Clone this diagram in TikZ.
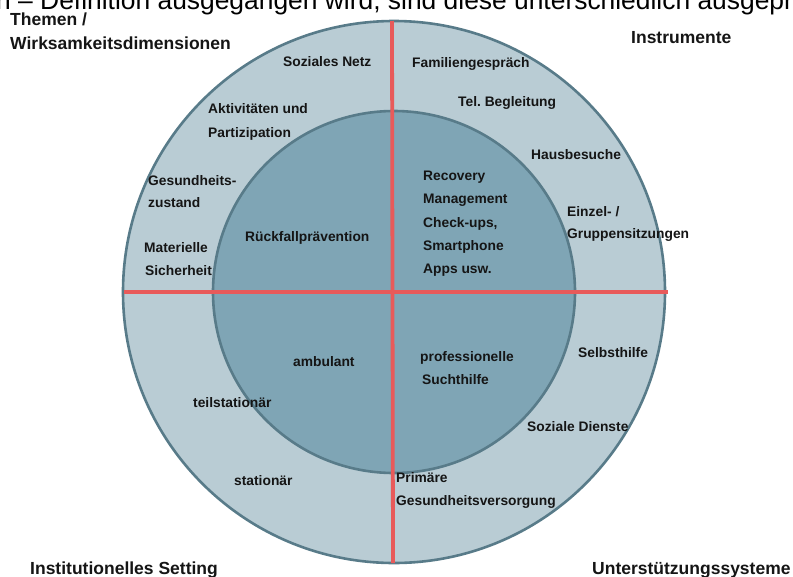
\documentclass[tikz,border=0pt]{standalone}
\usepackage{fontspec}
\setmainfont{Liberation Sans}
\frenchspacing
\definecolor{ringout}{HTML}{B9CCD4}
\definecolor{ringin}{HTML}{7FA5B5}
\definecolor{ringline}{HTML}{587B89}
\definecolor{axisred}{HTML}{E85A5A}
\definecolor{txt}{HTML}{151515}
\begin{document}
\begin{tikzpicture}[x=1pt,y=-1pt,
  lbl/.style={anchor=base west, inner sep=0pt, text=txt,
    font=\fontsize{13.8}{16}\selectfont\bfseries},
  head/.style={lbl, font=\fontsize{17.5}{20}\selectfont\bfseries},
  ring/.style={draw=ringline, line width=2.6pt},
  axis/.style={draw=axisred, line width=3.8pt}]
\useasboundingbox (0,0) rectangle (793,576);
\begin{scope}
\clip (0,0) rectangle (793,576);
% clipped running text at the top of the page
\node[anchor=base west, inner sep=0pt, font=\fontsize{26.4}{30}\selectfont] (toptext) at (-4,9)
  {n – Definition ausgegangen wird, sind diese unterschiedlich ausgeprägt};
% rings
\coordinate (c) at (394,292);
\path[ring, fill=ringout] (c) circle[radius=271];
\path[ring, fill=ringin] (c) circle[radius=181];
% axes
\coordinate (vtop) at (392,21);
\coordinate (vbot) at (393,563);
\coordinate (hl) at (124,292);
\coordinate (hr) at (668,292);
\draw[axis] (vtop) -- (vbot);
\draw[axis] (hl) -- (hr);
% headings
\node[head] (h1a) at (10,25.5) {Themen /};
\node[head] (h1b) at (10,49) {Wirksamkeitsdimensionen};
\node[head] (h2) at (631,43) {Instrumente};
\node[head] (h3) at (30,574) {Institutionelles Setting};
\node[head] (h4) at (592,574) {Unterstützungssysteme};
% top-left quadrant
\node[lbl] (soz) at (283,66) {Soziales Netz};
\node[lbl] (akt1) at (208,113) {Aktivitäten und};
\node[lbl] (akt2) at (208,137) {Partizipation};
\node[lbl] (ges1) at (148,185) {Gesundheits-};
\node[lbl] (ges2) at (148,207) {zustand};
\node[lbl] (mat1) at (144,252) {Materielle};
\node[lbl] (mat2) at (145,275) {Sicherheit};
\node[lbl] (rueck) at (245,241) {Rückfallprävention};
% top-right quadrant
\node[lbl] (fam) at (412,67) {Familiengespräch};
\node[lbl] (tel) at (458,106) {Tel. Begleitung};
\node[lbl] (haus) at (531,159) {Hausbesuche};
\node[lbl] (rec1) at (423,180) {Recovery};
\node[lbl] (rec2) at (423,203) {Management};
\node[lbl] (rec3) at (423,227) {Check-ups,};
\node[lbl] (rec4) at (423,250) {Smartphone};
\node[lbl] (rec5) at (423,273) {Apps usw.};
\node[lbl] (ein1) at (567,216) {Einzel- /};
\node[lbl] (ein2) at (567,238) {Gruppensitzungen};
% bottom-left quadrant
\node[lbl] (amb) at (293,366) {ambulant};
\node[lbl] (teil) at (193,407) {teilstationär};
\node[lbl] (stat) at (234,485) {stationär};
% bottom-right quadrant
\node[lbl] (prof1) at (420,361) {professionelle};
\node[lbl] (prof2) at (422,384) {Suchthilfe};
\node[lbl] (selb) at (578,357) {Selbsthilfe};
\node[lbl] (sozd) at (527,431) {Soziale Dienste};
\node[lbl] (prim1) at (396,482) {Primäre};
\node[lbl] (prim2) at (396,505) {Gesundheitsversorgung};
\end{scope}
\end{tikzpicture}
\end{document}
